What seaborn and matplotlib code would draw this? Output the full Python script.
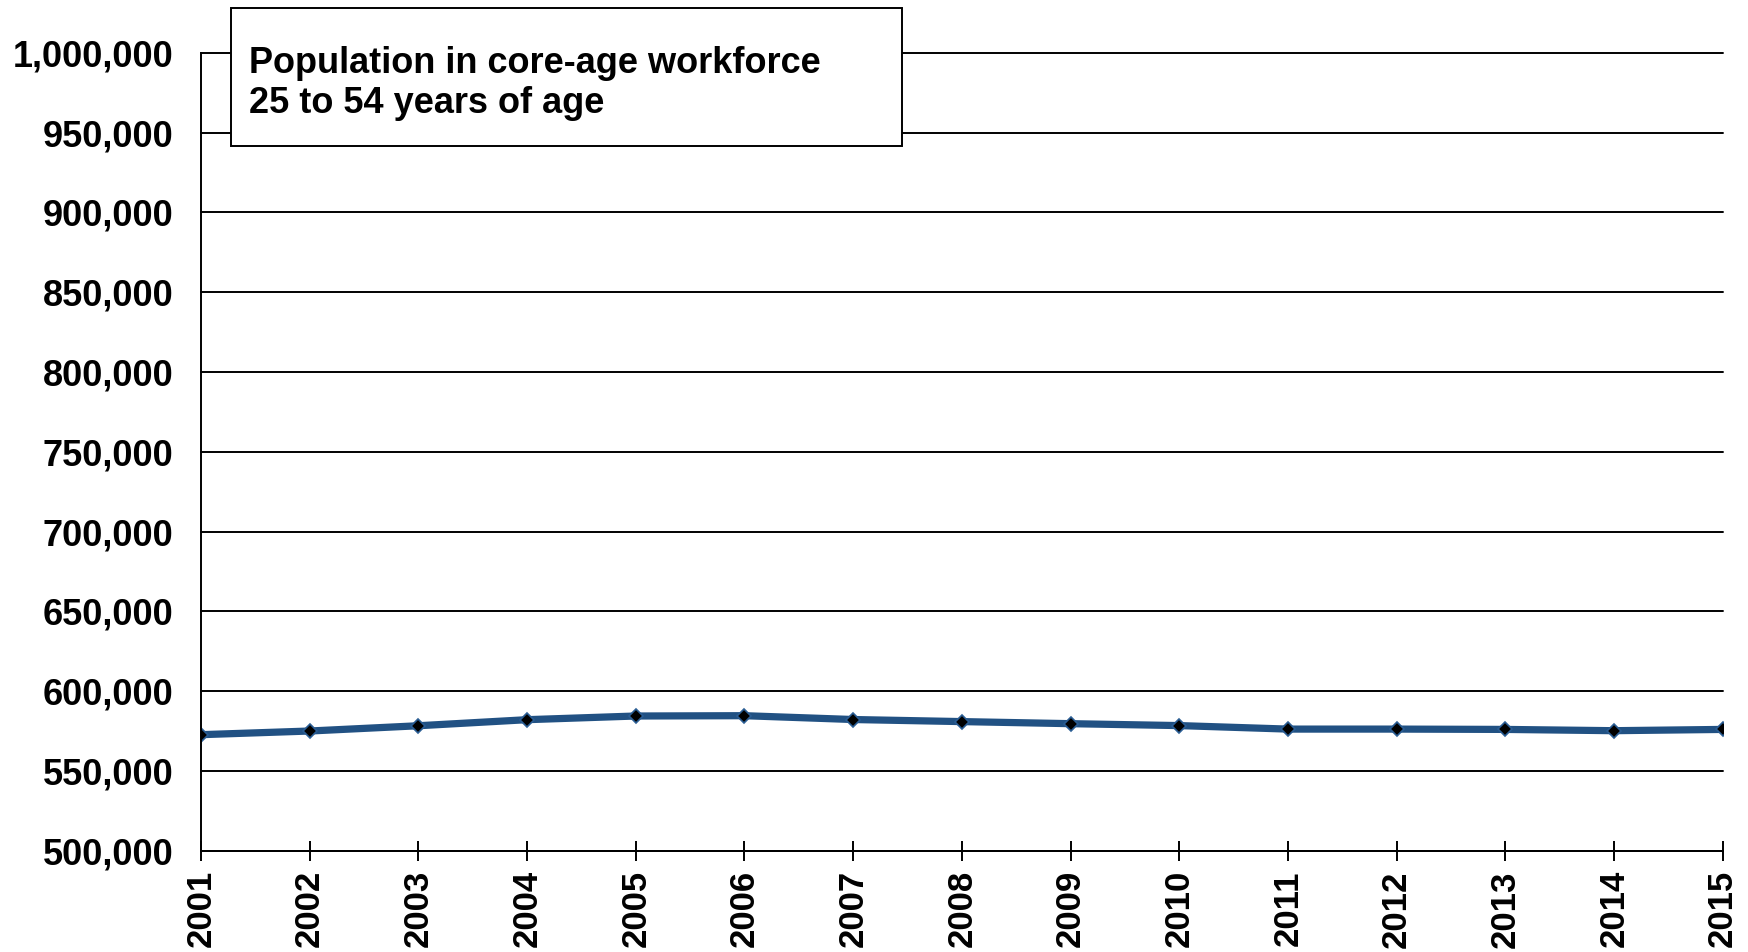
import pandas as pd
import matplotlib
matplotlib.use("Agg")
import matplotlib.pyplot as plt
import matplotlib.patches as patches
from matplotlib.ticker import FuncFormatter
import seaborn as sns

# ====== data ======
years = [2001, 2002, 2003, 2004, 2005, 2006, 2007, 2008,
         2009, 2010, 2011, 2012, 2013, 2014, 2015]
population = [572700, 575000, 578300, 582100, 584400, 584600, 582200, 580900,
              579600, 578400, 576200, 576200, 576000, 575200, 576000]
y_ticks = list(range(500000, 1000001, 50000))
title_lines = ["Population in core-age workforce", "25 to 54 years of age"]

df = pd.DataFrame({"year": years, "population": population})

sns.set_theme(style="white")
plt.rcParams["font.family"] = ["Liberation Sans", "DejaVu Sans"]
plt.rcParams["font.weight"] = "bold"

fig = plt.figure(figsize=(17.48, 9.52), dpi=100)
ax = fig.add_axes([0.115, 0.1064, 0.8705, 0.8382])

sns.lineplot(data=df, x="year", y="population", ax=ax,
             color="#215183", linewidth=5.2,
             marker="D", markersize=7.5, markerfacecolor="black",
             markeredgecolor="#2a5d94", markeredgewidth=1.2)

ax.set_xlim(2001, 2015)
ax.set_ylim(500000, 1000000)
ax.set_xticks(years)
ax.set_yticks(y_ticks)
ax.yaxis.set_major_formatter(FuncFormatter(lambda v, p: f"{int(v):,}"))
ax.set_xlabel("")
ax.set_ylabel("")

ax.grid(axis="y", color="black", linewidth=1.4)
ax.grid(axis="x", visible=False)
ax.set_axisbelow(True)
for gl in ax.get_ygridlines():
    gl.set_clip_on(False)

for s in ["top", "right"]:
    ax.spines[s].set_visible(False)
for s in ["left", "bottom"]:
    ax.spines[s].set_color("black")
    ax.spines[s].set_linewidth(1.4)

ax.tick_params(axis="y", length=0, pad=20, labelsize=26, colors="black")
ax.tick_params(axis="x", direction="inout", length=14, width=1.4,
               pad=7, labelsize=25, colors="black", bottom=True)
for lab in ax.get_xticklabels():
    lab.set_rotation(90)
    lab.set_fontweight("bold")
for lab in ax.get_yticklabels():
    lab.set_fontweight("bold")

# ====== title box ======
box = patches.Rectangle((0.1322, 0.8466), 0.3836, 0.145,
                        transform=fig.transFigure, facecolor="white",
                        edgecolor="black", linewidth=1.4, zorder=5)
fig.add_artist(box)
fig.text(0.1424, 0.952, "\n".join(title_lines), ha="left", va="top",
         fontsize=26, fontweight="bold", color="black", zorder=6,
         linespacing=1.2)

fig.savefig("out.png", dpi=100)
